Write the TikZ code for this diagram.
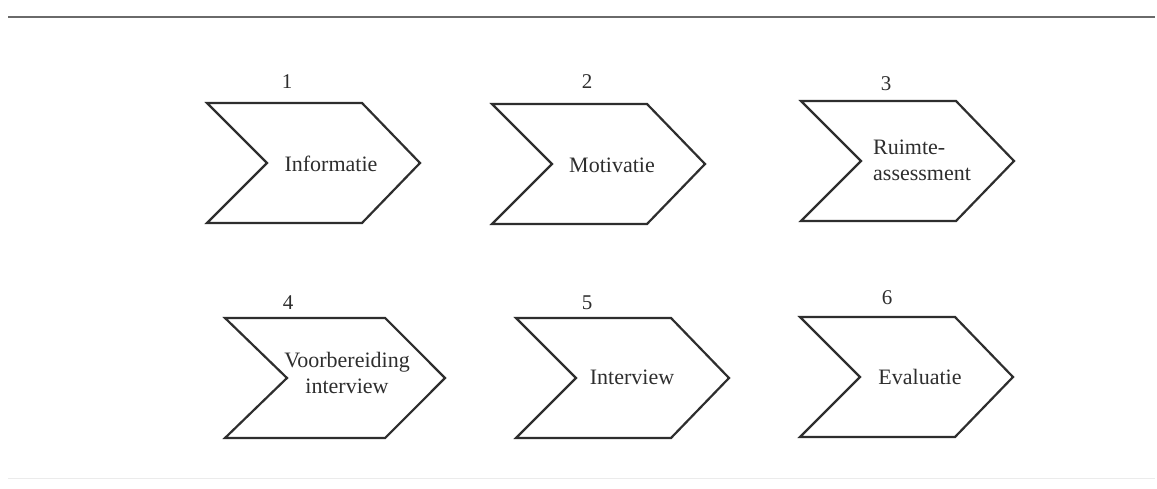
\documentclass[tikz,border=0pt]{standalone}
\usepackage{fontspec}
\setmainfont{Liberation Serif}
\definecolor{ink}{HTML}{2E2E2E}
\definecolor{rule}{HTML}{6A6A6A}
\begin{document}
\begin{tikzpicture}[x=1pt,y=-1pt,
  chevline/.style={draw=ink, line width=2.2pt, line join=miter},
  lbl/.style={font=\fontsize{22}{26}\selectfont, text=ink, align=center, inner sep=0pt},
  num/.style={font=\fontsize{21}{23}\selectfont, text=ink, inner sep=0pt},
  chev/.pic={\path[chevline] (0,0) -- (155,0) -- (213,60) -- (155,120) -- (0,120) -- (60,60) -- cycle;}
]
\useasboundingbox (0,0) rectangle (1157,489);
\fill[white] (0,0) rectangle (1157,489);
% rules
\draw[rule, line width=2pt] (8,17) -- (1155,17);
\draw[black!8, line width=1pt] (8,478) -- (1155,478);
% row 1
\pic at (207,103) {chev};
\pic at (492,104) {chev};
\pic at (801,101) {chev};
% row 2
\pic[xscale=1.033] at (225,318) {chev};
\pic at (516,318) {chev};
\pic at (800,317) {chev};
% numbers
\node[num] (n1) at (287,82) {1};
\node[num] (n2) at (587,82) {2};
\node[num] (n3) at (886,84) {3};
\node[num] (n4) at (288,303) {4};
\node[num] (n5) at (587,303) {5};
\node[num] (n6) at (887,298) {6};
% labels
\node[lbl] (l1) at (331,164) {Informatie};
\node[lbl] (l2) at (612,165) {Motivatie};
\node[lbl, anchor=west, align=left] (l3) at (873,160) {Ruimte-\\assessment};
\node[lbl] (l4) at (347,373) {Voorbereiding\\interview};
\node[lbl] (l5) at (632,377) {Interview};
\node[lbl] (l6) at (920,377) {Evaluatie};
\end{tikzpicture}
\end{document}
